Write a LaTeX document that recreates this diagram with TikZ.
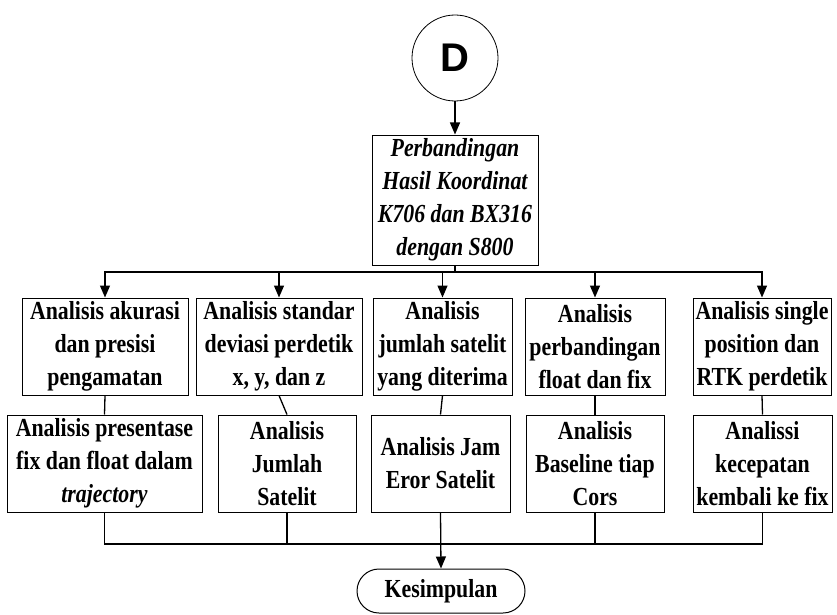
\documentclass[tikz,border=0pt]{standalone}
\usepackage{fontspec}
\setmainfont{Liberation Serif}[FakeStretch=0.84]
\newfontfamily\labelsans{Liberation Sans}
\usetikzlibrary{arrows.meta}
\begin{document}
\begin{tikzpicture}[x=1pt,y=-1pt,
  box/.style={draw,line width=1pt,align=center,inner sep=0pt,
    font=\fontsize{26}{33}\selectfont\bfseries},
  row/.style={box,minimum height=97pt},
  line/.style={line width=1.3pt},
  arr/.style={line width=1.3pt,-{Triangle[width=10pt,length=12pt]}}]
\useasboundingbox (0,0) rectangle (837,615);

% connector and start
\node[draw,circle,line width=0.8pt,minimum size=86pt,inner sep=0pt,
  font=\labelsans\fontsize{40}{40}\selectfont\bfseries] (d) at (455,58) {D};

% comparison box
\node[box,minimum width=166pt,minimum height=130pt,font=\fontsize{26}{33}\selectfont\bfseries\itshape]
  (top) at (455,200) {Perbandingan\\Hasil Koordinat\\K706 dan BX316\\dengan S800};

% first row of analyses
\node[row,minimum width=166pt] (b1) at (105,346.5) {Analisis akurasi\\dan presisi\\pengamatan};
\node[row,minimum width=166pt] (b2) at (279,346.5) {Analisis standar\\deviasi perdetik\\x, y, dan z};
\node[row,minimum width=139pt] (b3) at (442.5,346.5) {Analisis\\jumlah satelit\\yang diterima};
\node[row,minimum width=140pt] (b4) at (595,346.5) {Analisis\\perbandingan\\float dan fix};
\node[row,minimum width=138pt] (b5) at (762,346.5) {Analisis single\\position dan\\RTK perdetik};

% second row of analyses
\node[row,minimum width=195pt] (c1) at (104.5,463.5) {Analisis presentase\\fix dan float dalam\\\textit{trajectory}};
\node[row,minimum width=138pt] (c2) at (287,463.5) {Analisis\\Jumlah\\Satelit};
\node[row,minimum width=139pt] (c3) at (440.5,463.5) {Analisis Jam\\Eror Satelit};
\node[row,minimum width=138pt] (c4) at (595,463.5) {Analisis\\Baseline tiap\\Cors};
\node[row,minimum width=139pt] (c5) at (762.5,463.5) {Analissi\\kecepatan\\kembali ke fix};

% conclusion
\node[box,minimum width=168pt,minimum height=44pt,rounded corners=22pt] (k) at (441,591) {Kesimpulan};

% junction points
\coordinate (j) at (455,272);
\coordinate (m) at (440.5,544);

\draw[arr] (d) -- (top);
\draw[line] (top.south) -- (j);
\foreach \b in {b1,b2,b3,b4,b5} \draw[arr] (j) -| (\b.north);

\draw[line] (b1.south) -- (c1.north);
\draw[line] (b2.south) -- (c2.north);
\draw[line] (b3.south) -- (c3.north);
\draw[line] (b4.south) -- (c4.north);
\draw[line] (b5.south) -- (c5.north);

\foreach \c in {c1,c2,c4,c5} \draw[line] (\c.south) |- (m);
\draw[arr] (c3.south) -- (k.north);
\end{tikzpicture}
\end{document}
